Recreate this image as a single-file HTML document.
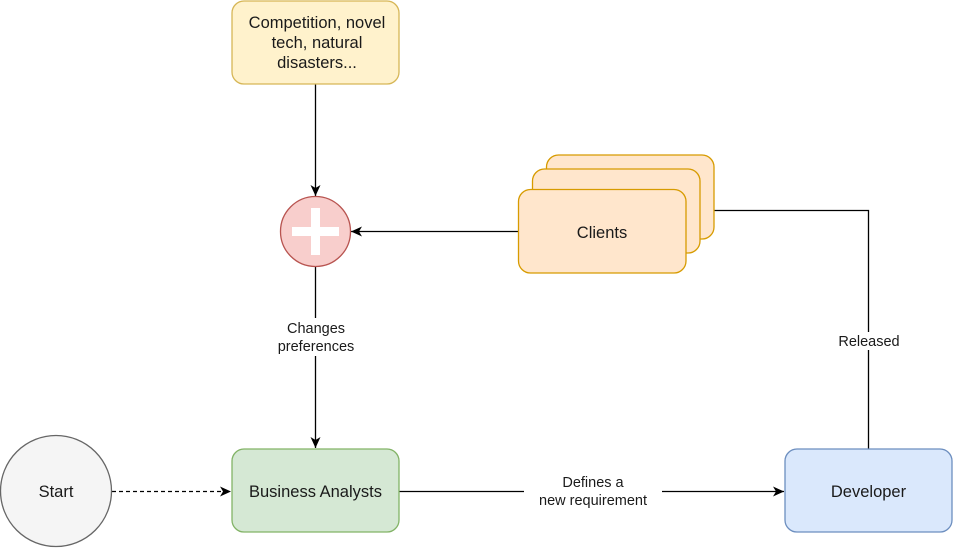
<!DOCTYPE html>
<html><head><meta charset="utf-8"><style>
html,body{margin:0;padding:0;background:#fff;}
svg{display:block;}
text{font-family:"Liberation Sans",Arial,sans-serif;fill:#1a1a1a;}
</style></head><body>
<svg width="954" height="548" viewBox="0 0 954 548" xmlns="http://www.w3.org/2000/svg">
<defs>
<marker id="a" markerWidth="12" markerHeight="12" refX="11" refY="6" orient="auto" markerUnits="userSpaceOnUse">
<path d="M0,1 L11,6 L0,11 L3,6 Z" fill="#000"/>
</marker>
</defs>
<line x1="315.5" y1="84" x2="315.5" y2="196" stroke="#000" stroke-width="1.3" marker-end="url(#a)"/>
<line x1="518" y1="231.5" x2="351" y2="231.5" stroke="#000" stroke-width="1.3" marker-end="url(#a)"/>
<line x1="315.5" y1="266" x2="315.5" y2="448" stroke="#000" stroke-width="1.3" marker-end="url(#a)"/>
<line x1="112" y1="491.5" x2="231" y2="491.5" stroke="#000" stroke-width="1.3" stroke-dasharray="4,3" marker-end="url(#a)"/>
<line x1="399" y1="491.5" x2="784" y2="491.5" stroke="#000" stroke-width="1.3" marker-end="url(#a)"/>
<polyline points="868.5,449 868.5,210.5 714,210.5" fill="none" stroke="#000" stroke-width="1.3"/>
<rect x="268" y="318" width="96" height="38" fill="#fff"/>
<text x="316" y="333" font-size="14.5" text-anchor="middle">Changes</text>
<text x="316" y="351" font-size="14.5" text-anchor="middle">preferences</text>
<rect x="524" y="472" width="138" height="38" fill="#fff"/>
<text x="593" y="487" font-size="14.5" text-anchor="middle">Defines a</text>
<text x="593" y="505" font-size="14.5" text-anchor="middle">new requirement</text>
<rect x="828" y="332" width="82" height="18" fill="#fff"/>
<text x="869" y="346" font-size="14.5" text-anchor="middle">Released</text>
<rect x="232" y="1" width="167" height="83" rx="12" fill="#fff2cc" stroke="#d6b656" stroke-width="1.3"/>
<text x="317" y="28" font-size="16.5" text-anchor="middle">Competition, novel</text>
<text x="317" y="48" font-size="16.5" text-anchor="middle">tech, natural</text>
<text x="317" y="68" font-size="16.5" text-anchor="middle">disasters...</text>
<circle cx="315.5" cy="231.5" r="35" fill="#f8cecc" stroke="#b85450" stroke-width="1.3"/>
<rect x="292" y="227" width="47" height="9" fill="#fff"/>
<rect x="311" y="208" width="9" height="47" fill="#fff"/>
<rect x="546.5" y="155" width="167.5" height="84" rx="12" fill="#ffe6cc" stroke="#d79b00" stroke-width="1.3"/>
<rect x="532.5" y="169" width="167.5" height="84" rx="12" fill="#ffe6cc" stroke="#d79b00" stroke-width="1.3"/>
<rect x="518.5" y="189.5" width="167.5" height="83.5" rx="12" fill="#ffe6cc" stroke="#d79b00" stroke-width="1.3"/>
<text x="602" y="238" font-size="16.5" text-anchor="middle">Clients</text>
<circle cx="56" cy="491" r="55.5" fill="#f5f5f5" stroke="#666" stroke-width="1.3"/>
<text x="56" y="497" font-size="16.5" text-anchor="middle">Start</text>
<rect x="232" y="449" width="167" height="83" rx="12" fill="#d5e8d4" stroke="#82b366" stroke-width="1.3"/>
<text x="315.5" y="497" font-size="16.5" text-anchor="middle">Business Analysts</text>
<rect x="785" y="449" width="167" height="83" rx="12" fill="#dae8fc" stroke="#6c8ebf" stroke-width="1.3"/>
<text x="868.5" y="497" font-size="16.5" text-anchor="middle">Developer</text>
</svg>
</body></html>
